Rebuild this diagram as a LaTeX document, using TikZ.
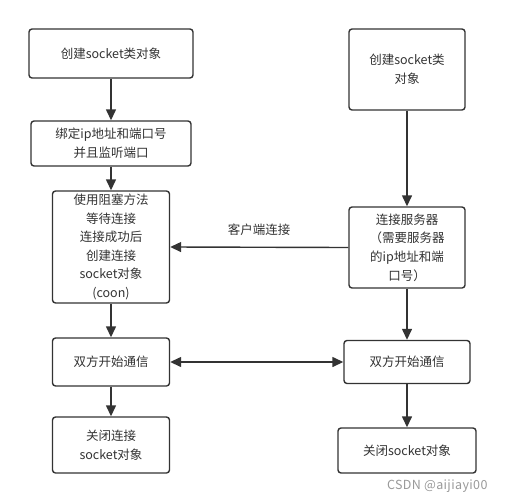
\documentclass[tikz,border=0pt]{standalone}
\usepackage{fontspec}
\setmainfont{Noto Sans CJK SC}
\usetikzlibrary{arrows.meta}

\definecolor{boxline}{HTML}{333333}
\definecolor{boxtext}{HTML}{333333}

\tikzset{
  stepbox/.style={draw=boxline, line width=1.4pt, rounded corners=3pt, fill=white,
    text=boxtext, align=center, inner sep=2pt,
    font=\fontsize{12.5}{18.6}\selectfont},
  flow/.style={draw=boxline, line width=1.4pt, -{Triangle[length=11pt,width=10pt]}},
  twoway/.style={draw=boxline, line width=1.4pt, {Triangle[length=11pt,width=10pt]}-{Triangle[length=11pt,width=10pt]}}
}

\begin{document}
\begin{tikzpicture}[x=1pt, y=-1pt]

\useasboundingbox (0,0) rectangle (505,503);

% Server side (left)
\node[stepbox, minimum width=164pt, minimum height=49pt] (srvcreate) at (111, 53.5) {创建socket类对象};
\node[stepbox, minimum width=160pt, minimum height=45pt] (srvbind) at (111, 143.5) {绑定ip地址和端口号\\并且监听端口};
\node[stepbox, minimum width=117pt, minimum height=112pt] (srvaccept) at (111, 247) {使用阻塞方法\\等待连接\\连接成功后\\创建连接\\socket对象\\(coon)};
\node[stepbox, minimum width=117pt, minimum height=48pt] (srvtalk) at (111, 362) {双方开始通信};
\node[stepbox, minimum width=117pt, minimum height=56pt] (srvclose) at (111, 445) {关闭连接\\socket对象};

% Client side (right)
\node[stepbox, minimum width=116pt, minimum height=81pt] (clicreate) at (407, 69.5) {创建socket类\\对象};
\node[stepbox, minimum width=116pt, minimum height=81pt] (cliconnect) at (407, 247.5) {连接服务器\\（需要服务器\\的ip地址和端\\口号）};
\node[stepbox, minimum width=126pt, minimum height=43pt] (clitalk) at (407, 362) {双方开始通信};
\node[stepbox, minimum width=138pt, minimum height=45pt] (cliclose) at (407, 450.5) {关闭socket对象};

% Server flow
\draw[flow] (srvcreate) -- (srvbind);
\draw[flow] (srvbind) -- (srvaccept);
\draw[flow] (srvaccept) -- (srvtalk);
\draw[flow] (srvtalk) -- (srvclose);

% Client flow
\draw[flow] (clicreate) -- (cliconnect);
\draw[flow] (cliconnect) -- (clitalk);
\draw[flow] (clitalk) -- (cliclose);

% Connection and communication
\draw[flow] (cliconnect.west) -- (srvaccept.east);
\node[text=boxtext, font=\fontsize{12.5}{14}\selectfont] (connlabel) at (259, 230) {客户端连接};
\draw[twoway] (srvtalk.east) -- (clitalk.west);

% Watermark
\node[text=black!40, font=\fontsize{12.5}{14}\selectfont\addfontfeatures{LetterSpace=3}, anchor=east] (mark) at (491, 486) {CSDN @aijiayi00};

\end{tikzpicture}
\end{document}
